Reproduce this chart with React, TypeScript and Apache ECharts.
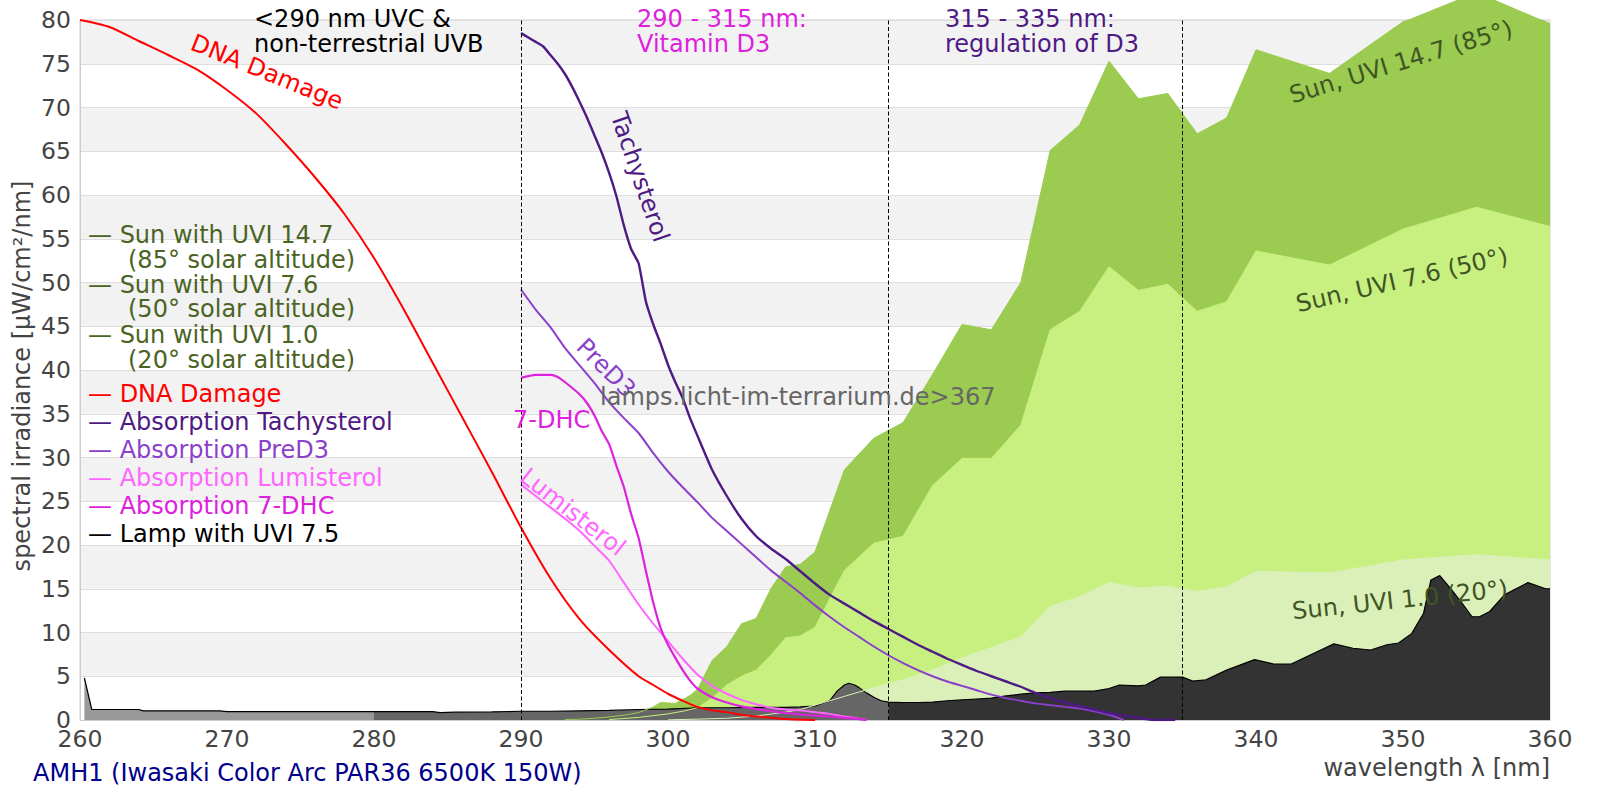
import React, { useEffect, useRef } from "react";
import * as echarts from "echarts";

const FONT = "DejaVu Sans";
const FS = 24;

// ---- data: [wavelength nm, value] ----
const sun147: [number, number][] = [
  [293, 0.05], [294, 0.1], [295, 0.2], [296, 0.35], [297, 0.55], [298, 0.85], [299, 1.5], [299.5, 2.0],
  [300.5, 1.9], [301.5, 2.8], [302, 3.5], [303, 6.8], [304, 8.4], [305, 11.0], [306, 11.6], [307, 15.0],
  [308, 17.5], [309, 17.8], [310, 19.2], [312, 28.6], [314, 32.2], [316, 34.0], [318, 39.5], [320, 45.2],
  [322, 44.6], [324, 50.0], [326, 65.1], [328, 68.0], [330, 75.3], [332, 71.0], [334, 71.6], [336, 67.0],
  [338, 68.8], [340, 76.6], [345, 73.9], [350, 79.8], [355, 83.2], [360, 79.6],
];

const sun76: [number, number][] = [
  [296, 0.05], [298, 0.3], [300, 0.7], [301, 1.0], [302, 1.4], [303, 2.5], [304, 4.0], [305, 5.0],
  [306, 5.7], [307, 7.4], [308, 9.4], [309, 9.6], [310, 10.6], [312, 17.1], [314, 20.2], [316, 21.0],
  [318, 26.8], [320, 29.9], [322, 29.9], [324, 33.7], [326, 44.6], [328, 46.7], [330, 51.8], [332, 49.1],
  [334, 49.8], [336, 46.7], [338, 47.8], [340, 53.6], [345, 52.0], [350, 56.1], [355, 58.6], [360, 56.4],
];

const sun10: [number, number][] = [
  [300, 0.02], [302, 0.1], [304, 0.2], [306, 0.45], [308, 0.9], [309, 1.2], [310, 1.7], [311, 2.2],
  [312, 2.7], [313, 3.2], [314, 3.7], [316, 4.6], [318, 5.7], [320, 7.1], [322, 8.3], [324, 9.5],
  [326, 13.0], [328, 14.1], [330, 15.7], [332, 15.1], [334, 15.3], [336, 14.7], [338, 15.2], [340, 17.0],
  [345, 16.8], [350, 18.3], [355, 18.9], [360, 18.3],
];

const lamp: [number, number][] = [
  [260.3, 4.8], [260.8, 1.2], [264, 1.2], [264.3, 1.05], [269.5, 1.05], [270, 0.95], [280, 0.95],
  [284, 0.95], [284.5, 0.85], [285.5, 0.9], [288, 0.92], [290, 1.0], [292, 1.0], [294, 1.05], [296, 1.1],
  [298, 1.2], [300, 1.25], [302, 1.4], [304, 1.4], [306, 1.45], [308, 1.45], [309, 1.5], [310, 1.6],
  [311, 2.2], [311.5, 3.3], [312, 4.0], [312.3, 4.2], [312.7, 4.0], [313, 3.7], [313.5, 3.1], [314, 2.6],
  [314.5, 2.2], [315, 2.05], [316, 2.0], [317, 2.0], [318, 2.05], [319, 2.2], [320, 2.3], [321, 2.4],
  [322, 2.5], [323, 2.75], [324, 2.95], [325, 3.1], [326, 3.15], [327, 3.3], [329, 3.3], [330, 3.6],
  [330.7, 4.0], [332, 3.9], [332.5, 4.0], [333.5, 4.9], [335, 4.9], [335.7, 4.45], [336.6, 4.6],
  [338, 5.7], [339.9, 6.9], [341.2, 6.4], [342.4, 6.4], [343.9, 7.6], [345.3, 8.7], [346.6, 8.2],
  [347.8, 8.0], [348.9, 8.6], [349.7, 8.8], [350.6, 9.9], [351.4, 12.2], [351.9, 16.0], [352.5, 16.5],
  [353.3, 14.9], [354, 13.4], [354.7, 11.8], [355.2, 11.8], [355.9, 12.4], [356.9, 14.3], [358.5, 15.7],
  [359.7, 15.0], [360, 15.0],
];

const dnaDamage: [number, number][] = [
  [260, 80], [262, 79.2], [264, 77.6], [266, 76], [268, 74.3], [270, 72], [272, 69.3], [274, 65.8],
  [276, 62], [278, 57.8], [280, 52.8], [282, 47], [284, 40.8], [286, 34.6], [288, 28.4], [290, 22],
  [292, 16.2], [294, 11.5], [296, 8], [298, 5.0], [299, 4.0], [300, 3.0], [301, 2.2], [302, 1.5],
  [303, 1.1], [304, 0.9], [305, 0.6], [306, 0.4], [307, 0.25], [308, 0.12], [310, 0],
];

const tachysterol: [number, number][] = [
  [290, 78.5], [290.5, 78.0], [291, 77.5], [291.5, 77], [292, 76], [292.5, 75], [293, 73.8], [293.5, 72.3],
  [294, 70.6], [294.5, 68.8], [295, 66.8], [295.5, 64.8], [296, 62.5], [296.5, 59.8], [297, 56.5],
  [297.5, 53.8], [298, 52.2], [298.5, 47.8], [299, 45.2], [299.5, 43], [300, 40.6], [300.5, 38.6],
  [301, 36.8], [301.5, 34.5], [302, 32.5], [303, 28.6], [304, 25.6], [305, 23], [306, 21], [307, 19.6],
  [308, 18.4], [309, 17], [310, 15.6], [311, 14.3], [312, 13.3], [313, 12.3], [314, 11.3], [315, 10.4],
  [316, 9.5], [317, 8.6], [318, 7.8], [319, 7.0], [320, 6.3], [321, 5.6], [322, 5.0], [323, 4.4],
  [324, 3.8], [325, 3.1], [326, 2.5], [327, 2.0], [328, 1.6], [329, 1.2], [330, 0.8], [331, 0.5],
  [332, 0.25], [333, 0], [334.5, 0],
];

const preD3: [number, number][] = [
  [290, 49.2], [291, 46.9], [292, 44.9], [293, 42.5], [294, 40.5], [295, 38.5], [296, 36.3], [297, 34.5],
  [298, 32.8], [299, 30.5], [300, 28.4], [301, 26.6], [302, 24.9], [303, 23.1], [304, 21.6], [305, 20.1],
  [306, 18.6], [307, 17.1], [308, 15.8], [309, 14.5], [310, 13.1], [311, 11.8], [312, 10.6], [313, 9.5],
  [314, 8.4], [315, 7.4], [316, 6.5], [317, 5.7], [318, 5.0], [319, 4.4], [320, 3.9], [321, 3.4],
  [322, 2.9], [323, 2.5], [324, 2.2], [325, 1.9], [326, 1.7], [327, 1.5], [328, 1.3], [329, 1.0],
  [330, 0.6], [331, 0],
];

const lumisterol: [number, number][] = [
  [290, 26.9], [291, 25.6], [292, 24.3], [293, 23], [294, 21.6], [295, 19.9], [296, 18.2], [297, 15.7],
  [298, 13.2], [299, 11], [300, 9], [301, 7], [302, 5.2], [303, 3.9], [304, 3.0], [305, 2.3], [306, 1.8],
  [307, 1.4], [308, 1.2], [309, 1.1], [310, 0.9], [311, 0.7], [312, 0.4], [313, 0.15], [313.5, 0],
];

const dhc7: [number, number][] = [
  [290, 39.1], [290.5, 39.3], [291, 39.45], [292, 39.45], [292.5, 39.2], [293, 38.6], [294, 37.2],
  [294.5, 36.2], [295, 34.8], [295.5, 33], [296, 31.5], [296.5, 29], [297, 26.6], [297.5, 23.5],
  [298, 20.8], [298.5, 17], [299, 13.4], [299.5, 10.5], [300, 8.6], [300.5, 7.1], [301, 5.7], [301.5, 4.5],
  [302, 3.6], [303, 2.6], [304, 2.0], [305, 1.55], [306, 1.25], [307, 1.0], [308, 0.8], [309, 0.65],
  [310, 0.5], [311, 0.4], [312, 0.25], [313, 0.1], [313.5, 0],
];

const bandLimits = [290, 315, 335];
const lampSplit = [280, 315];

// ---- colours ----
const C_SUN147 = "#9bcb50";
const C_SUN76 = "#c8f080";
const C_SUN10 = "#daf0b8";
const C_LAMP = ["#999999", "#666666", "#333333"];
const C_SUNTXT = "#4b6424";
const C_SUNLBL = "#3f5525";
const C_DNA = "#ff0000";
const C_TACHY = "#4e1a84";
const C_PRED3 = "#8b3fcb";
const C_LUMI = "#ff66ff";
const C_DHC = "#dd22dd";

const legendItems = [
  { text: "— Sun with UVI 14.7", color: C_SUNTXT, y: 235 },
  { text: "(85° solar altitude)", color: C_SUNTXT, y: 260, indent: true },
  { text: "— Sun with UVI 7.6", color: C_SUNTXT, y: 285 },
  { text: "(50° solar altitude)", color: C_SUNTXT, y: 309, indent: true },
  { text: "— Sun with UVI 1.0", color: C_SUNTXT, y: 335 },
  { text: "(20° solar altitude)", color: C_SUNTXT, y: 360, indent: true },
  { text: "— DNA Damage", color: C_DNA, y: 394 },
  { text: "— Absorption Tachysterol", color: C_TACHY, y: 422 },
  { text: "— Absorption PreD3", color: C_PRED3, y: 450 },
  { text: "— Absorption Lumisterol", color: C_LUMI, y: 478 },
  { text: "— Absorption 7-DHC", color: C_DHC, y: 506 },
  { text: "— Lamp with UVI 7.5", color: "#000000", y: 534 },
];

const deg = (d: number) => (d * Math.PI) / 180;

function txt(
  text: string,
  x: number,
  y: number,
  fill: string,
  opts: { rot?: number; align?: string; vAlign?: string; lineHeight?: number; size?: number } = {}
) {
  const align = opts.align || "center";
  const vAlign = opts.vAlign || "middle";
  return {
    type: "text",
    x,
    y,
    rotation: deg(opts.rot || 0),
    z: 100,
    silent: true,
    style: {
      text,
      fill,
      fontSize: opts.size || FS,
      fontFamily: FONT,
      align,
      textAlign: align,
      verticalAlign: vAlign,
      textVerticalAlign: vAlign,
      lineHeight: opts.lineHeight || 20,
    },
  };
}

function areaSeries(name: string, data: [number, number][], color: string, extra: any = {}) {
  return {
    type: "line",
    name,
    data,
    showSymbol: false,
    symbol: "none",
    silent: true,
    lineStyle: { width: 0, opacity: 0 },
    areaStyle: { color, opacity: 1 },
    ...extra,
  };
}

function lineSeries(name: string, data: [number, number][], color: string, width: number, smooth = 0) {
  return {
    type: "line",
    name,
    data,
    showSymbol: false,
    symbol: "none",
    silent: true,
    smooth,
    lineStyle: { color, width },
  };
}

export default function App() {
  const ref = useRef<HTMLDivElement>(null);

  useEffect(() => {
    if (!ref.current) return;
    const chart = echarts.init(ref.current, null, { renderer: "svg" });

    const lampA = lamp.filter(([x]) => x <= lampSplit[0]);
    const lampB = lamp.filter(([x]) => x >= lampSplit[0] && x <= lampSplit[1]);
    const lampC = lamp.filter(([x]) => x >= lampSplit[1]);

    const graphics: any[] = [
      txt("<290 nm UVC &\nnon-terrestrial UVB", 254, 6, "#000000", { align: "left", vAlign: "top", lineHeight: 25 }),
      txt("290 - 315 nm:\nVitamin D3", 637, 6, C_DHC, { align: "left", vAlign: "top", lineHeight: 25 }),
      txt("315 - 335 nm:\nregulation of D3", 945, 6, C_TACHY, { align: "left", vAlign: "top", lineHeight: 25 }),
      txt("DNA Damage", 267, 72, C_DNA, { rot: -22 }),
      txt("Tachysterol", 640, 177, C_TACHY, { rot: -71 }),
      txt("PreD3", 606, 368, C_PRED3, { rot: -45 }),
      txt("7-DHC", 513, 420, C_DHC, { align: "left" }),
      txt("Lumisterol", 573, 512, C_LUMI, { rot: -38 }),
      txt("lamps.licht-im-terrarium.de>367", 600, 397, "#666666", { align: "left" }),
      txt("Sun, UVI 14.7 (85°)", 1401, 62, C_SUNLBL, { rot: 17 }),
      txt("Sun, UVI 7.6 (50°)", 1402, 280, C_SUNLBL, { rot: 13 }),
      txt("Sun, UVI 1.0 (20°)", 1400, 600, C_SUNLBL, { rot: 6 }),
      txt("spectral irradiance [µW/cm²/nm]", 22, 376, "#444444", { rot: 90 }),
      txt("wavelength λ [nm]", 1550, 768, "#444444", { align: "right" }),
      txt("AMH1 (Iwasaki Color Arc PAR36 6500K 150W)", 33, 773, "#00008b", { align: "left" }),
      ...legendItems.map((it) =>
        txt(it.text, it.indent ? 128 : 88, it.y, it.color, { align: "left" })
      ),
    ];

    const option: any = {
      animation: false,
      backgroundColor: "#ffffff",
      textStyle: { fontFamily: FONT },
      grid: {
        left: 80,
        right: 50,
        top: 20,
        bottom: 80,
        show: true,
        borderColor: "#cccccc",
        borderWidth: 1,
        backgroundColor: "transparent",
      },
      xAxis: {
        type: "value",
        min: 260,
        max: 360,
        interval: 10,
        axisLine: { show: true, lineStyle: { color: "#cccccc" } },
        axisTick: { show: false },
        splitLine: { show: false },
        axisLabel: { color: "#444444", fontSize: 23.5, fontFamily: FONT, margin: 10, lineHeight: 18 },
      },
      yAxis: {
        type: "value",
        min: 0,
        max: 80,
        interval: 5,
        axisLine: { show: true, lineStyle: { color: "#cccccc" } },
        axisTick: { show: false },
        splitLine: { show: true, lineStyle: { color: "#dedede", width: 1 } },
        splitArea: { show: true, areaStyle: { color: ["#ffffff", "#f2f2f2"] } },
        axisLabel: { color: "#444444", fontSize: 23.5, fontFamily: FONT, margin: 9, lineHeight: 18 },
      },
      graphic: { elements: graphics },
      series: [
        areaSeries("Sun with UVI 14.7", sun147, C_SUN147, { clip: false }),
        areaSeries("Sun with UVI 7.6", sun76, C_SUN76),
        areaSeries("Sun with UVI 1.0", sun10, C_SUN10, {
          markLine: {
            silent: true,
            symbol: ["none", "none"],
            label: { show: false },
            lineStyle: { color: "#000000", width: 1, type: [4, 2.5] },
            data: bandLimits.map((x) => ({ xAxis: x })),
          },
        }),
        areaSeries("Lamp UVC", lampA, C_LAMP[0]),
        areaSeries("Lamp UVB", lampB, C_LAMP[1]),
        areaSeries("Lamp UVA", lampC, C_LAMP[2]),
        lineSeries("Lamp with UVI 7.5", lamp, "#000000", 1.2),
        lineSeries("Sun 14.7 line", sun147, C_SUN147, 1),
        lineSeries("Sun 7.6 line", sun76, C_SUN76, 1),
        lineSeries("Sun 1.0 line", sun10, C_SUN10, 1),
        lineSeries("DNA Damage", dnaDamage, C_DNA, 2, 0.25),
        lineSeries("Absorption Lumisterol", lumisterol, C_LUMI, 2, 0.2),
        lineSeries("Absorption 7-DHC", dhc7, C_DHC, 2.2, 0.2),
        lineSeries("Absorption PreD3", preD3, C_PRED3, 2, 0.2),
        lineSeries("Absorption Tachysterol", tachysterol, C_TACHY, 2.4, 0.15),
      ],
    };

    chart.setOption(option);
    return () => chart.dispose();
  }, []);

  return (
    <div
      ref={ref}
      style={{ position: "fixed", left: 0, top: 0, width: 1600, height: 800, background: "#ffffff" }}
    />
  );
}
